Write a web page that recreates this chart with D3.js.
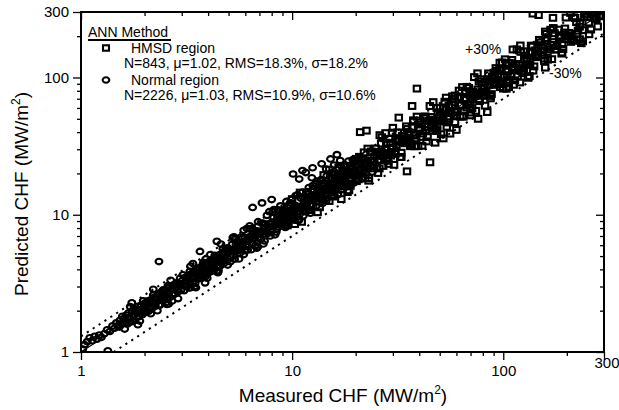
<!DOCTYPE html>
<html><head><meta charset="utf-8">
<script src="https://cdn.jsdelivr.net/npm/d3@7"></script>
<style>body{margin:0;background:#fff}svg{display:block}</style>
</head><body>
<svg id="c" width="619" height="410"></svg>
<script>
// Normal region (circles): [measured, predicted]
const normalPts = [
[1.02,1.05],[1.04,1.13],[1.07,1.19],[1.1,1.27],[1.13,1.21],[1.16,1.3],[1.19,1.24],[1.22,1.33],[1.25,1.28],[1.29,1.36],[1.34,1.02],[1.33,1.45],[1.37,1.41],[1.41,1.55],[1.44,1.49],[1.47,1.63],[1.5,1.56],[1.53,1.7],[1.56,1.6],[1.59,1.75],
[1.62,1.69],[1.64,1.86],[1.66,1.6],[1.68,1.93],[1.7,1.78],[1.72,1.66],[1.74,2.28],[1.75,1.98],[1.77,1.85],[1.8,1.7],[1.82,2.05],[1.84,1.92],[1.86,2.15],[1.88,1.81],[1.9,2.0],[1.93,2.2],[1.95,1.87],[1.97,2.09],[2.0,2.26],[2.02,1.94],
[1.65,1.64],[1.78,2.08],[1.9,1.68],[1.96,1.95],
[2.04,2.16],[2.07,2.36],[2.09,1.98],[2.12,2.27],[2.14,2.4],[2.17,2.08],[2.2,2.33],[2.22,2.5],[2.25,2.16],[2.28,2.42],[2.31,2.6],[2.34,4.56],[2.34,2.2],[2.37,2.51],[2.4,2.74],[2.43,2.36],[2.46,2.6],[2.5,2.82],[2.53,2.45],[2.56,2.71],[2.6,2.92],[2.63,2.5],[2.67,2.86],[2.7,2.62],[2.74,3.07],[2.78,2.67],[2.82,2.98],[2.86,3.2],[2.9,2.76],[2.94,3.1],[2.98,2.83],
[2.1,2.08],[2.2,2.6],[2.3,2.0],[2.45,2.43],[2.58,3.04],[2.7,2.35],[2.85,2.83],[2.95,3.45],[2.55,2.22],
[3.02,3.32],[3.05,3.05],[3.08,2.8],[3.12,3.5],[3.15,3.25],[3.19,3.03],[3.22,3.6],[3.26,3.42],[3.3,3.1],[3.33,3.72],[3.37,3.2],[3.4,3.58],[3.44,3.85],[3.47,3.16],[3.5,3.68],[3.54,3.97],[3.58,3.4],[3.62,3.8],[3.66,5.4],[3.66,4.1],[3.7,3.44],[3.74,3.93],[3.78,4.25],[3.82,3.6],[3.87,3.19],[3.9,4.1],[3.94,4.4],[3.98,3.74],[4.02,4.26],[4.07,4.6],[4.12,3.85],[4.16,4.4],[4.21,4.72],[4.26,3.97],[4.31,4.55],[4.36,4.9],[4.4,6.4],[4.41,4.12],[4.46,4.7],[4.52,5.1],[4.57,4.25],[4.63,4.9],[4.69,5.3],[4.75,4.42],[4.81,5.08],[4.87,5.5],[4.93,4.6],[5.0,5.3],
[3.1,3.07],[3.28,3.87],[3.45,3.0],[3.6,3.56],[3.8,4.5],[3.96,3.45],[4.1,4.06],[4.3,5.05],[4.48,3.9],[4.66,4.6],[4.85,5.7],[4.95,4.3],
[5.06,5.52],[5.13,4.92],[5.2,6.08],[5.27,5.38],[5.34,4.75],[5.42,6.07],[5.5,5.45],[5.57,5.9],[5.65,5.25],[5.73,6.88],[5.81,6.04],[5.9,5.13],[5.98,6.82],[6.07,6.07],[6.15,5.84],[6.24,6.86],[6.33,6.9],[6.42,6.16],[6.51,7.62],[6.6,6.73],[6.7,5.96],[6.8,7.62],[6.9,6.83],[7.0,7.42],[7.1,6.6],[7.2,8.64],[7.3,7.59],[7.4,6.44],[7.5,8.55],[7.6,7.6],[7.72,7.33],[7.83,8.61],[7.94,8.65],[8.05,7.73],[8.17,9.56],[8.29,8.46],[8.41,7.48],[8.53,9.55],[8.65,8.56],[8.77,9.3],[8.9,8.28],[9.03,10.84],[9.16,9.53],[9.29,8.08],[9.42,10.74],[9.56,9.56],[9.7,9.22],[9.84,10.82],[9.98,10.88],
[6.5,11.3],[7.2,12.2],[8.0,12.9],[6.8,5.7],
[10.1,10.3],[10.25,9.12],[10.4,11.65],[10.55,10.44],[10.7,11.34],[10.85,10.09],[11.0,13.2],[11.15,11.6],[11.3,9.83],[11.5,13.11],[11.65,11.65],[11.8,11.21],[12.0,13.2],[12.2,13.3],[12.4,11.9],[12.6,14.74],[12.8,13.06],[13.0,11.57],[13.2,14.78],[13.4,13.27],[13.6,14.42],[13.8,12.83],[14.0,16.8],[14.25,14.82],[14.5,12.62],[14.75,16.82],[15.0,15.0],[15.25,14.49],[15.5,17.05],[15.8,17.22],[16.1,15.46],[16.4,19.19],[16.7,17.03],[17.0,15.13],[17.3,19.38],[17.6,17.42],[18.0,19.08],[18.4,17.11],[18.8,22.56],[19.2,19.97],[19.6,17.05],[20.0,22.8],
[10.1,19.8],[10.8,18.2],[11.6,20.3],[12.4,18.6],[13.1,17.6],
[11.2,21.0],[12.5,22.0],[13.8,23.5],[15.2,25.5],[16.3,27.4],[16.9,24.8],[14.5,21.5],[15.8,23.0],[16.6,21.8],
[5.3,6.9],[5.9,7.7],[6.3,8.3],[6.9,8.9],[7.6,9.9],[8.2,10.9],[8.8,11.6],[9.4,12.5],[9.9,12.9],[10.4,13.8],[11.2,14.6],[12.0,15.8],[12.9,16.9],[13.7,18.0],[14.6,19.2],[15.4,20.3],[17.8,23.1],[18.5,24.6],[19.8,25.2],
[5.45,5.6],[5.85,6.3],[6.2,6.45],[6.65,7.1],[7.05,7.25],[7.45,8.0],[7.9,8.2],[8.35,8.95],[8.8,9.05],[9.25,9.9],[9.7,10.1],[10.3,11.0],[10.9,11.3],[11.4,12.2],[11.9,12.4],[12.5,13.3],[13.1,13.6],[13.7,14.6],[14.3,15.0],[15.0,16.0],[15.7,16.4],[16.5,17.6],[17.2,18.0],[18.0,19.2],[18.9,19.6],[19.8,21.0],
[20.5,20.2],[21.2,23.5],[22.0,21.0],[22.8,25.0],[23.5,22.5],[24.5,27.0],[25.5,24.8],[26.8,29.0],[28.0,27.5],[29.5,31.0],[21.5,18.3],[24.0,20.5],
[1.52,1.52],[1.57,1.82],[1.61,1.47],[1.66,1.78],[1.71,2.14],[1.76,1.67],[1.81,2.03],[1.86,1.58],[1.92,1.98],[1.97,2.36],[2.03,1.97],[2.08,2.27],[2.14,1.9],[2.2,2.86],[2.26,2.28],[2.32,2.64],[2.39,2.39],[2.45,2.84],[2.52,2.29],[2.59,2.77],[2.66,3.33],[2.73,2.59],[2.81,3.15],[2.88,2.45],[2.96,3.05],[3.04,3.65],[3.13,3.04],[3.21,3.5],[3.3,2.94],[3.39,4.41],[3.48,3.51],[3.58,4.08],[3.68,3.68],[3.78,4.38],[3.88,3.53],[3.99,4.27],[4.1,5.13],[4.21,4.0],[4.33,4.85],[4.45,3.78],[4.57,4.71],[4.7,5.64],[4.83,4.69],[4.96,5.41],[5.1,4.54],[5.24,6.81],[5.38,5.43],[5.53,6.3],[5.68,5.68],[5.84,6.77],[6.0,5.46],[6.17,6.6],[6.34,7.93],[6.51,6.18],[6.69,7.49],[6.88,5.85],[7.07,7.28],[7.26,8.71],[7.46,7.24],[7.67,8.36],[7.88,7.01],[8.1,10.53],[8.32,8.4],[8.55,9.75],[8.79,8.79],[9.03,10.47],[9.28,8.44],[9.54,10.21],[9.8,12.25],[10.07,9.57],[10.35,11.59],[10.64,9.04],[10.93,11.26],[11.23,13.48],[11.54,11.19],[11.86,12.93],[12.19,10.85],[12.53,16.29],[12.87,13.0],[13.23,15.08],[13.6,13.6],[13.97,16.2],[14.36,13.07],[14.76,15.79],[15.16,18.95],[15.58,14.8],[16.01,17.93],[16.46,13.99],[16.91,17.42],[17.38,20.86],[17.86,17.32],[18.35,20.0],[18.86,16.79],[19.38,25.19],[19.92,20.12],[20.47,23.34],[21.0,21.0],[21.6,25.06],[22.2,20.2],[22.8,24.4],
[2.0,2.1],[2.11,2.07],[2.23,2.45],[2.36,2.19],[2.49,2.54],[2.63,3.02],[2.77,2.66],[2.92,3.15],[3.08,3.08],[3.25,2.93],[3.43,3.84],[3.62,3.76],[3.82,4.01],[4.03,3.95],[4.25,4.68],[4.48,4.17],[4.72,4.81],[4.98,5.73],[5.25,5.04],[5.54,5.98],[5.84,5.84],[6.16,5.54],[6.5,7.28],[6.85,7.12],[7.22,7.58],[7.61,7.46],[8.03,8.83],[8.47,7.88],[8.93,9.11],[9.42,10.83],[9.93,9.53],[10.47,11.31],[11.04,11.04],[11.64,10.48],[12.28,13.75],[12.95,13.47],[13.65,14.33],[14.4,14.11],[15.18,16.7],[16.0,14.88],[16.9,17.24],[17.8,20.47],[18.8,18.05],
[3.3,4.22],[3.9,4.76],[4.6,6.12],[5.4,6.7],[6.1,7.93],[6.9,8.28],[7.8,10.53],[8.6,10.84],[9.6,11.71],[10.6,13.99],[11.8,14.75],[13.0,16.9],[14.2,17.04],[15.6,19.97],[17.0,22.78],
[2.6,2.24],[3.5,2.94],[4.4,3.87],[5.6,4.76],[6.4,5.57],[7.3,6.13],[8.3,7.14],[9.4,8.27],[10.8,9.18],[12.2,10.25],[13.9,12.09],[15.9,13.67],[18.2,16.02]
];

// HMSD region (squares): [measured, predicted]
const hmsdPts = [
[9.0,10.08],[9.5,8.36],[10.0,13.0],[10.6,10.6],[11.1,8.88],[11.7,14.04],[12.3,11.56],[12.9,13.8],[13.5,11.34],[14.1,19.46],[14.7,15.14],[15.3,13.92],[15.9,19.72],[16.5,16.0],[17.1,13.0],[17.7,20.36],[18.3,20.13],[18.9,16.25],[19.5,19.7],[20.1,25.53],[20.7,23.18],[21.3,18.74],[21.9,28.47],[22.5,22.5],[23.1,18.48],[23.8,28.56],[24.5,23.03],[25.2,26.96],[25.9,21.76],[26.6,36.71],[27.3,28.12],[28.0,25.48],[28.8,35.71],[29.6,28.71],[30.4,23.1],[31.2,35.88],[32.0,35.2],[32.9,28.29],[33.8,34.14],[34.7,44.07],[35.6,39.87],[36.5,32.12],[37.5,48.75],[38.5,38.5],[39.5,31.6],[40.5,48.6],[41.6,39.1],[42.7,45.69],[43.8,36.79],[44.9,61.96],[46.0,47.38],[47.2,42.95],[48.4,60.02],[49.6,48.11],[50.8,38.61],[52.1,59.92],[53.4,58.74],[54.7,47.04],[56.0,56.56],[57.4,72.9],[58.8,65.86],[60.2,52.98],[61.7,80.21],[63.2,63.2],[64.7,51.76],[66.3,79.56],[67.9,63.83],[69.5,74.37],[71.2,59.81],[72.9,100.6],[74.6,76.84],[76.4,69.52],[78.2,96.97],[80.0,77.6],[82.0,62.32],[84.0,96.6],[86.0,94.6],[88.0,75.68],[90.0,90.9],[92.2,117.1],[94.4,105.7],[96.6,85.01],[98.9,128.6],[101,101],[103.5,82.8],[106,127.2],[108.5,102],[111,118.8],[113.5,95.34],[116,160.1],[119,122.6],[122,111],[125,155],[128,124.2],[131,99.56],[134,154.1],[137,150.7],[140,120.4],[144,145.4],[148,188],[152,170.2],[156,137.3],[160,208],[165,165],[170,136],[175,210],[180,169.2],[186,199],[192,161.3],[198,273.2],[205,211.2],[212,192.9],[219,271.6],[226,219.2],[234,177.8],[242,278.3],[250,275],[260,223.6],[270,272.7],[276,268],[290,282],
[9.3,8.84],[9.8,11.56],[10.3,8.55],[10.9,14.5],[11.4,11.97],[12.0,10.8],[12.6,15.37],[13.2,10.43],[13.8,15.04],[14.4,14.26],[15.0,21.3],[15.6,13.57],[16.2,18.47],[16.8,17.14],[17.4,16.18],[18.0,22.68],[18.6,15.07],[19.2,21.31],[19.8,19.21],[20.4,24.48],[21.0,19.95],[21.6,25.49],[22.2,18.43],[22.8,30.32],[23.5,24.68],[24.2,21.78],[24.9,30.38],[25.5,20.15],[26.2,28.56],[27.0,26.73],[27.7,39.33],[28.4,24.71],[29.2,33.29],[30.0,30.6],[30.8,28.64],[31.6,39.82],[32.5,26.33],[33.4,37.07],[34.2,33.17],[35.1,42.12],[36.0,34.2],[37.0,43.66],[38.0,31.54],[39.0,51.87],[40.0,42.0],[41.0,36.9],[42.2,51.48],[43.3,34.21],[44.4,48.4],[45.5,45.05],[46.6,66.17],[47.8,41.59],[49.0,55.86],[50.2,51.2],[51.5,47.9],[52.8,66.53],[54.0,43.74],[55.4,61.49],[56.7,55.0],[58.1,69.72],[59.5,56.53],[61.0,71.98],[62.5,51.88],[64.0,85.12],[65.5,68.78],[67.1,60.39],[68.7,83.81],[70.3,55.54],[72.0,78.48],[73.8,73.06],[75.5,107.2],[77.3,67.25],[79.1,90.17],[81.0,82.62],[83.0,77.19],[85.0,107.1],[87.0,70.47],[89.0,98.79],[91.1,88.37],[93.3,112],[95.5,90.73],[97.8,115.4],[100,83],[102,135.7],[105,110.3],[107,96.3],[110,134.2],[112,88.48],[115,125.4],[117.5,116.3],[120.5,171.1],[123.5,107.4],[126.5,144.2],[129.5,132.1],[132.5,123.2],[135.5,170.7],[138.5,112.2],[142,157.6],[146,141.6],[150,180],[154,146.3],[158,186.4],[162.5,134.9],[167.5,222.8],[172.5,181.1],[177.5,159.8],[183,223.3],[189,149.3],[195,212.6],[201,199],[208,295.4],[215,187],[222,253.1],[230,234.6],[238,221.3],[246,292],[255,206.6],[265,294.2],[275,266.8],[285,279],[295,280.3],
[21,40],[22.5,41],[26,38],[37,62],[39,83],[32,51],[30,43],[111,160],[138,292],[147,285],[158,216],[172,272],[45,24.1],[35,20.7],[47.6,33.5],[52,36],[56,39],[60,41.5],[70,53],[76,50],[84,56],[120,92],[158,118],[190,175],[215,185],[230,190],
[14.5,15.08],[15.0,12.6],[15.5,18.6],[16.0,15.36],[16.6,22.08],[17.1,15.39],[17.7,19.47],[18.3,14.64],[18.9,21.92],[19.5,19.5],[20.2,17.57],[20.8,26.42],[21.5,20.0],[22.2,23.75],[23.0,17.71],[23.7,28.91],[24.5,24.26],[25.3,28.59],[26.2,27.25],[27.0,22.68],[27.9,33.48],[28.9,27.74],[29.8,39.63],[30.8,27.72],[31.8,34.98],[32.9,26.32],[34.0,39.44],[35.1,35.1],[36.3,31.58],[37.5,47.63],[38.7,35.99],[40.0,42.8],[41.3,31.8],[42.7,52.09],[44.1,43.66],[45.6,51.53],[47.1,48.98],[48.6,40.82],[50.2,60.24],[51.9,49.82],[53.6,71.29],[55.4,49.86],[57.2,62.92],[59.1,47.28],[61.1,70.88],[63.1,63.1],[65.2,56.72],[67.3,85.47],[69.6,64.73],[71.9,76.93],[74.2,57.13],[76.7,93.57],[79.2,78.41],[81.8,92.43],[84.5,87.88],[87.3,73.33],[90.2,108.2],[93.2,89.47],[96.3,128.1],[99.5,89.55],[102.8,113.1],[106.2,84.96],[109.7,127.3],[113.3,113.3],[117,101.8],[121,153.7],[125,116.3],[129,138],[133,102.4],[137.5,167.8],[142,140.6],[146.5,165.5],[151.5,157.6],[156.5,131.5],[161.5,193.8],[167,160.3],[172.5,229.4],[178,160.2],[184,202.4],[190,152],[196,227.4],[203,203],[209,181.8],[216,274.3],[223,207.4],[231,247.2],[238,183.3],[246,290],[254,251.5],[263,297],[271,281.8],[280,235.2],
[25.8,25.03],[27.5,29.7],[29.3,26.96],[31.2,32.14],[33.2,37.52],[35.4,33.63],[37.7,37.7],[40.2,42.61],[42.8,41.52],[45.6,49.25],[48.6,44.71],[51.8,53.35],[55.2,62.38],[58.8,55.86],[62.6,62.6],[66.7,70.7],[71.1,68.97],[75.7,81.76],[80.7,74.24],[86.0,88.58],[91.6,103.5],[97.6,92.72],[104,104],[110.8,117.4],[118,114.5],[125.7,135.8],[134,123.3],[142.7,147],[152,171.8],[162,153.9],[172.6,172.6],[184,195],[196,190.1],
[19.0,22.42],[20.6,18.13],[22.4,23.52],[24.3,23.09],[26.4,33.0],[28.6,23.45],[31.0,34.1],[33.6,33.6],[36.4,32.76],[39.5,45.43],[42.8,50.5],[46.4,40.83],[50.3,52.82],[54.5,51.78],[59.1,73.88],[64.1,52.56],[69.5,76.45],[75.3,75.3],[81.6,73.44],[88.5,101.8],[95.9,113.2],[104,91.52],[112.7,118.3],[122.2,116.1]
];

const majorTicks = [1, 10, 100];
const minorTicks = [2,3,4,5,6,7,8,9,20,30,40,50,60,70,80,90,200];
const xTickLabels = ["1", "10", "100", "300"];
const yTickLabels = ["1", "10", "100", "300"];
const bandLines = [{k:1.0, label:null}, {k:1.3, label:"+30%"}, {k:0.7, label:"-30%"}];

const FONT = "'Liberation Sans', Arial, Helvetica, sans-serif";
const svg = d3.select("#c").style("font-family", FONT);
const x = d3.scaleLog().domain([1, 300]).range([81, 604]);
const y = d3.scaleLog().domain([1, 300]).range([352, 12]);

svg.append("defs").append("clipPath").attr("id","clip")
  .append("rect").attr("x",81).attr("y",12).attr("width",523).attr("height",340);

const plot = svg.append("g").attr("clip-path","url(#clip)");

bandLines.forEach(b => {
  const x0 = Math.max(1, 1/b.k), x1 = Math.min(300, 300/b.k);
  plot.append("line")
    .attr("x1", x(x0)).attr("y1", y(x0*b.k))
    .attr("x2", x(x1)).attr("y2", y(x1*b.k))
    .attr("stroke","#000")
    .attr("stroke-width", b.k===1 ? 1.1 : 2)
    .attr("stroke-dasharray", b.k===1 ? null : "2.2,4.8");
});

plot.selectAll("ellipse.n").data(normalPts).join("ellipse")
  .attr("class","n")
  .attr("cx", d=>x(d[0])).attr("cy", d=>y(d[1]))
  .attr("rx",3.4).attr("ry",2.8)
  .attr("fill","none").attr("stroke","#000").attr("stroke-width",2.1);

plot.selectAll("rect.h").data(hmsdPts).join("rect")
  .attr("class","h")
  .attr("x", d=>x(d[0])-3.2).attr("y", d=>y(d[1])-2.9)
  .attr("width",6.4).attr("height",5.8)
  .attr("fill","none").attr("stroke","#000").attr("stroke-width",2.1);

function styleAxis(g){ g.select(".domain").remove(); g.selectAll("line").attr("stroke","#000").attr("stroke-width",1.3); g.selectAll("text").attr("font-family",FONT).attr("font-size",15).attr("fill","#000"); }

svg.append("g").attr("transform","translate(0,352)")
  .call(d3.axisBottom(x).tickValues(majorTicks).tickSize(8).tickPadding(5).tickFormat((d,i)=>xTickLabels[i])).call(styleAxis);
svg.append("g").attr("transform","translate(0,352)")
  .call(d3.axisBottom(x).tickValues(minorTicks).tickSize(4).tickFormat("")).call(styleAxis);
svg.append("g").attr("transform","translate(0,352)")
  .call(d3.axisBottom(x).tickValues([300]).tickSize(8).tickFormat("")).call(styleAxis);
svg.append("text").attr("x", x(300)+3).attr("y", 368).attr("text-anchor","middle")
  .attr("font-size",15).text(xTickLabels[3]);

svg.append("g").attr("transform","translate(81,0)")
  .call(d3.axisLeft(y).tickValues(majorTicks.concat([300])).tickSize(8).tickPadding(4).tickFormat((d,i)=>yTickLabels[i])).call(styleAxis);
svg.append("g").attr("transform","translate(81,0)")
  .call(d3.axisLeft(y).tickValues(minorTicks).tickSize(4).tickFormat("")).call(styleAxis);

svg.append("g").attr("transform","translate(0,12)")
  .call(d3.axisBottom(x).tickValues(majorTicks).tickSize(8).tickFormat("")).call(styleAxis);
svg.append("g").attr("transform","translate(0,12)")
  .call(d3.axisBottom(x).tickValues(minorTicks).tickSize(4).tickFormat("")).call(styleAxis);
svg.append("g").attr("transform","translate(604,0)")
  .call(d3.axisLeft(y).tickValues(majorTicks).tickSize(8).tickFormat("")).call(styleAxis);
svg.append("g").attr("transform","translate(604,0)")
  .call(d3.axisLeft(y).tickValues(minorTicks).tickSize(4).tickFormat("")).call(styleAxis);

svg.append("rect").attr("x",81).attr("y",12).attr("width",523).attr("height",340)
  .attr("fill","none").attr("stroke","#000").attr("stroke-width",2);

const xt = svg.append("text").attr("x",343).attr("y",402).attr("text-anchor","middle").attr("font-size",19);
xt.append("tspan").text("Measured CHF (MW/m");
xt.append("tspan").attr("dy",-8).attr("font-size",12).text("2");
xt.append("tspan").attr("dy",8).text(")");

const yt = svg.append("text").attr("transform","translate(28,194) rotate(-90)").attr("text-anchor","middle").attr("font-size",19);
yt.append("tspan").text("Predicted CHF (MW/m");
yt.append("tspan").attr("dy",-8).attr("font-size",12).text("2");
yt.append("tspan").attr("dy",8).text(")");

const lg = svg.append("g").attr("font-size",14);
lg.append("text").attr("x",88).attr("y",37).text("ANN Method");
lg.append("line").attr("x1",88).attr("x2",171).attr("y1",40).attr("y2",40).attr("stroke","#000").attr("stroke-width",2);
lg.append("rect").attr("x",103).attr("y",45.3).attr("width",6).attr("height",5.4).attr("fill","none").attr("stroke","#000").attr("stroke-width",2.1);
lg.append("text").attr("x",131).attr("y",53).text("HMSD region");
lg.append("text").attr("x",124).attr("y",68).text("N=843, \u03bc=1.02, RMS=18.3%, \u03c3=18.2%");
lg.append("ellipse").attr("cx",106).attr("cy",80).attr("rx",3.3).attr("ry",2.7).attr("fill","none").attr("stroke","#000").attr("stroke-width",2.1);
lg.append("text").attr("x",131).attr("y",85).text("Normal region");
lg.append("text").attr("x",124).attr("y",100).text("N=2226, \u03bc=1.03, RMS=10.9%, \u03c3=10.6%");

svg.append("text").attr("x",465).attr("y",54).attr("font-size",14).text(bandLines[1].label);
svg.append("text").attr("x",549).attr("y",78).attr("font-size",14).text(bandLines[2].label);
</script>
</body></html>
